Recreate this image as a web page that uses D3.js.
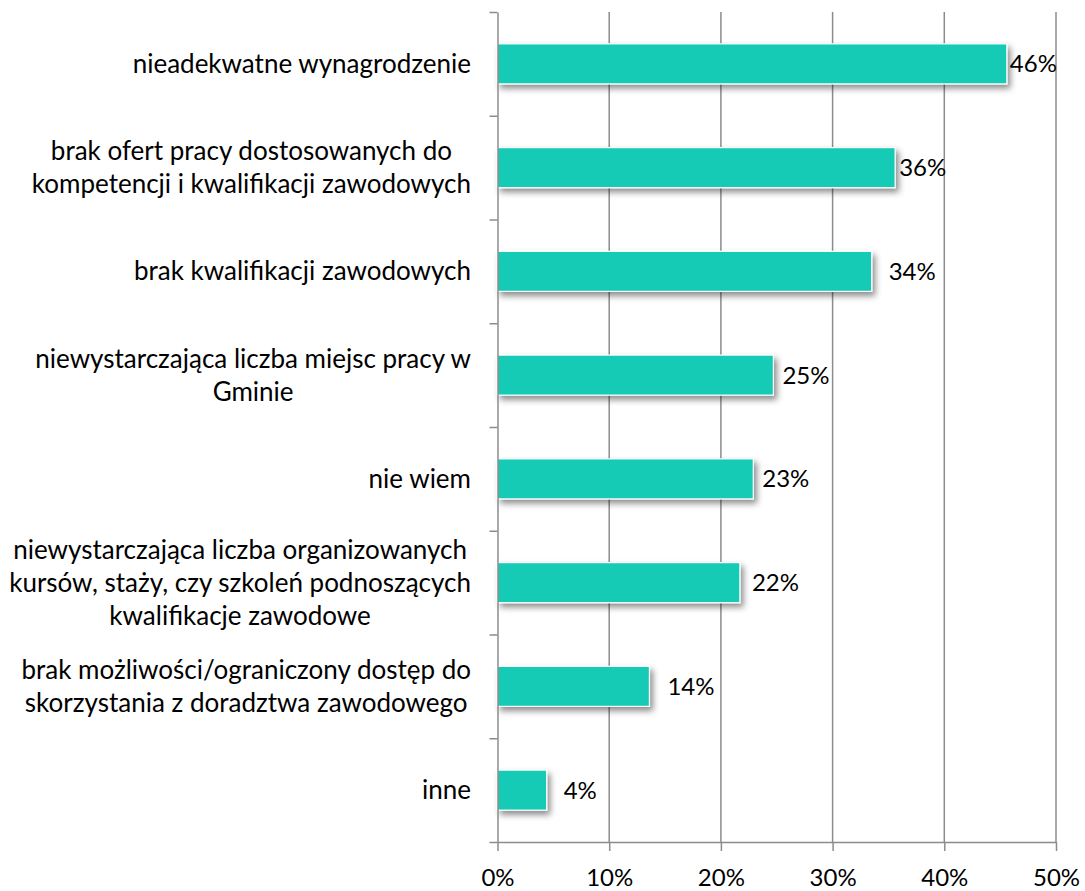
<!DOCTYPE html>
<html>
<head>
<meta charset="utf-8">
<script src="https://cdn.jsdelivr.net/npm/d3@7"></script>
<style>
  html, body { margin: 0; padding: 0; background: #fff; }
  svg { display: block; font-family: Lato, "Open Sans", sans-serif; }
</style>
</head>
<body>
<svg id="chart" width="1085" height="891"></svg>
<script>
// Reasons given, top to bottom (line breaks as the labels wrap)
const categories = [
  "nieadekwatne wynagrodzenie",
  "brak ofert pracy dostosowanych do\nkompetencji i kwalifikacji zawodowych",
  "brak kwalifikacji zawodowych",
  "niewystarczająca liczba miejsc pracy w\nGminie",
  "nie wiem",
  "niewystarczająca liczba organizowanych\nkursów, staży, czy szkoleń podnoszących\nkwalifikacje zawodowe",
  "brak możliwości/ograniczony dostęp do\nskorzystania z doradztwa zawodowego",
  "inne"
];
// Share of respondents
const values = [0.456, 0.356, 0.335, 0.247, 0.229, 0.217, 0.136, 0.044];
// Axis ticks
const xTicks = [0, 0.1, 0.2, 0.3, 0.4, 0.5];
// Horizontal nudge of each value label from its bar end (px)
const labelNudge = [3, 4, 17, 9, 9, 12, 18, 17];

const svg = d3.select("#chart");
const margin = { top: 12, right: 29, bottom: 49, left: 497.5 };
const W = 1085, H = 891;
const x0 = margin.left, x1 = W - margin.right;
const y0 = margin.top, y1 = H - margin.bottom;

const x = d3.scaleLinear().domain([0, 0.5]).range([x0, x1]);
const pad = 0.614;
const y = d3.scaleBand().domain(d3.range(categories.length))
  .range([y0, y1]).paddingInner(pad).paddingOuter(pad / 2);
const yEdge = d3.scaleLinear().domain([0, categories.length]).range([y0, y1]);

const gridColor = "#8c8c8c";
const barColor = "#19cbb6";
const pctFmt = d3.format(".0%");

// Drop shadow for bars
const defs = svg.append("defs");
const f = defs.append("filter").attr("id", "shadow")
  .attr("x", "-10%").attr("y", "-30%").attr("width", "130%").attr("height", "180%");
f.append("feDropShadow").attr("dx", 3).attr("dy", 4)
  .attr("stdDeviation", 3).attr("flood-color", "#000").attr("flood-opacity", 0.45);

// Vertical gridlines
svg.append("g").selectAll("line")
  .data(xTicks.filter(d => d > 0)).join("line")
  .attr("x1", d => x(d)).attr("x2", d => x(d))
  .attr("y1", y0).attr("y2", y1)
  .attr("stroke", gridColor).attr("stroke-width", 1.5);

// Bars
svg.append("g").selectAll("rect")
  .data(values).join("rect")
  .attr("x", x(0))
  .attr("y", (d, i) => y(i))
  .attr("width", d => x(d) - x(0))
  .attr("height", y.bandwidth())
  .attr("fill", barColor)
  .attr("stroke", "#fff").attr("stroke-width", 1.2)
  .attr("filter", "url(#shadow)");

// Bottom axis
const xAxis = svg.append("g")
  .attr("transform", `translate(0,${y1})`)
  .call(d3.axisBottom(x).tickValues(xTicks).tickFormat(pctFmt).tickSize(9).tickSizeOuter(0));
xAxis.select(".domain").attr("stroke", gridColor).attr("stroke-width", 1.5);
xAxis.selectAll(".tick line").attr("stroke", gridColor).attr("stroke-width", 1.5);
xAxis.selectAll(".tick text")
  .attr("dy", null).attr("y", 44)
  .attr("font-size", 24).attr("font-family", "Lato, sans-serif").attr("fill", "#000");

// Left axis with ticks on category boundaries
const yAxis = svg.append("g")
  .attr("transform", `translate(${x0},0)`)
  .call(d3.axisLeft(yEdge).tickValues(d3.range(categories.length + 1)).tickFormat("").tickSize(8).tickSizeOuter(0));
yAxis.select(".domain").attr("stroke", gridColor).attr("stroke-width", 1.5);
yAxis.selectAll(".tick line").attr("stroke", gridColor).attr("stroke-width", 1.5);

// Category labels, lines centred within a right-aligned block
const catFont = 26;
const lineH = 33;
const labelRight = 471;
const cats = svg.append("g").attr("font-size", catFont).attr("fill", "#000");
categories.forEach((c, i) => {
  const lines = c.split("\n");
  const t = cats.append("text").attr("text-anchor", "middle");
  const cy = y(i) + y.bandwidth() / 2;
  const first = cy - (lines.length - 1) * lineH / 2;
  lines.forEach((ln, k) => {
    t.append("tspan").attr("y", first + k * lineH).attr("dy", "0.35em").text(ln);
  });
  let maxW = 0;
  t.selectAll("tspan").each(function () { maxW = Math.max(maxW, this.getComputedTextLength()); });
  t.selectAll("tspan").attr("x", labelRight - maxW / 2);
});

// Value labels
svg.append("g").attr("font-size", 24).attr("fill", "#000")
  .selectAll("text").data(values).join("text")
  .attr("x", (d, i) => x(d) + labelNudge[i])
  .attr("y", (d, i) => y(i) + y.bandwidth() / 2)
  .attr("dy", "0.35em")
  .text(d => pctFmt(d));
</script>
</body>
</html>
